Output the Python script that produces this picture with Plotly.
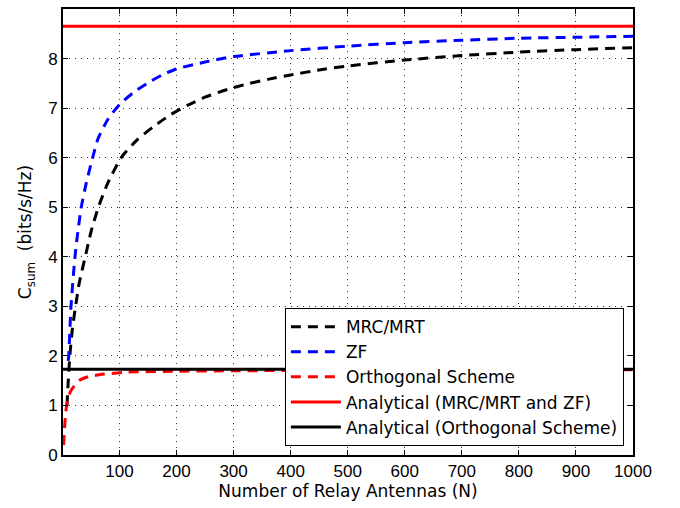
import plotly.graph_objects as go

# Data
n_mrc = [8, 10, 13, 17, 23, 30, 40, 50, 63, 80, 103, 130, 160, 190, 220, 250, 290, 325, 360, 400, 450, 500, 600, 700, 800, 900, 1000]
c_mrc = [1.0, 1.45, 2.0, 2.5, 3.0, 3.5, 4.0, 4.5, 5.0, 5.5, 6.0, 6.35, 6.63, 6.87, 7.06, 7.22, 7.38, 7.49, 7.58, 7.67, 7.77, 7.85, 7.97, 8.06, 8.13, 8.18, 8.22]

n_zf = [10, 11, 15, 22, 27, 33, 42, 53, 62, 80, 100, 125, 150, 175, 200, 250, 300, 400, 500, 600, 700, 800, 900, 1000]
c_zf = [1.9, 2.0, 3.0, 4.0, 4.5, 5.0, 5.5, 6.0, 6.37, 6.78, 7.07, 7.32, 7.51, 7.67, 7.79, 7.93, 8.04, 8.16, 8.25, 8.32, 8.37, 8.41, 8.43, 8.45]

n_orth = [2, 3, 4, 6, 9, 14, 21, 30, 45, 65, 110, 200, 300, 500, 700, 1000]
c_orth = [0.2, 0.4, 0.6, 0.88, 1.1, 1.28, 1.4, 1.51, 1.58, 1.62, 1.67, 1.69, 1.70, 1.71, 1.715, 1.72]

n_range = [1, 1000]
c_analytic_mrc_zf = [8.65, 8.65]
c_analytic_orth = [1.73, 1.73]

x_ticks = [100, 200, 300, 400, 500, 600, 700, 800, 900, 1000]
y_ticks = [0, 1, 2, 3, 4, 5, 6, 7, 8, 9]

DASH = "10px,7px"
fig = go.Figure()
fig.add_trace(go.Scatter(x=n_mrc, y=c_mrc, mode="lines", name="MRC/MRT",
                         line=dict(color="black", width=3, dash=DASH, shape="spline", smoothing=0.6)))
fig.add_trace(go.Scatter(x=n_zf, y=c_zf, mode="lines", name="ZF",
                         line=dict(color="blue", width=3, dash=DASH, shape="spline", smoothing=0.6)))
fig.add_trace(go.Scatter(x=n_orth, y=c_orth, mode="lines", name="Orthogonal Scheme",
                         line=dict(color="red", width=3, dash=DASH, shape="spline", smoothing=0.6)))
fig.add_trace(go.Scatter(x=n_range, y=c_analytic_mrc_zf, mode="lines",
                         name="Analytical (MRC/MRT and ZF)",
                         line=dict(color="red", width=3)))
fig.add_trace(go.Scatter(x=n_range, y=c_analytic_orth, mode="lines",
                         name="Analytical (Orthogonal Scheme)",
                         line=dict(color="black", width=3)))

axis_common = dict(
    showline=True, linecolor="black", linewidth=2, mirror="ticks",
    ticks="inside", ticklen=5, tickwidth=1, tickcolor="black",
    showgrid=True, gridcolor="#333333", gridwidth=1, griddash="1px,5px",
    zeroline=False,
    tickfont=dict(family="Liberation Sans, Arial, sans-serif", size=17, color="black"),
)

TITLE_FONT = dict(family="DejaVu Sans, sans-serif", size=17, color="black")

fig.update_layout(
    width=680, height=508,
    margin=dict(l=63, r=47, t=7, b=53),
    paper_bgcolor="white", plot_bgcolor="white",
    font=dict(family="Liberation Sans, Arial, sans-serif", size=17, color="black"),
    xaxis=dict(range=n_range, tickvals=x_ticks,
               title=dict(text="Number of Relay Antennas (N)", font=TITLE_FONT, standoff=2),
               **axis_common),
    yaxis=dict(range=[0, 9], tickvals=y_ticks,
               title=dict(text="C<sub>sum</sub>  (bits/s/Hz)", font=TITLE_FONT, standoff=12),
               **axis_common),
    legend=dict(x=0.984, y=0.02, xanchor="right", yanchor="bottom",
                bgcolor="white", bordercolor="black", borderwidth=1,
                font=TITLE_FONT, tracegroupgap=0, itemwidth=50),
    showlegend=True,
)

fig.write_html("out.html")
